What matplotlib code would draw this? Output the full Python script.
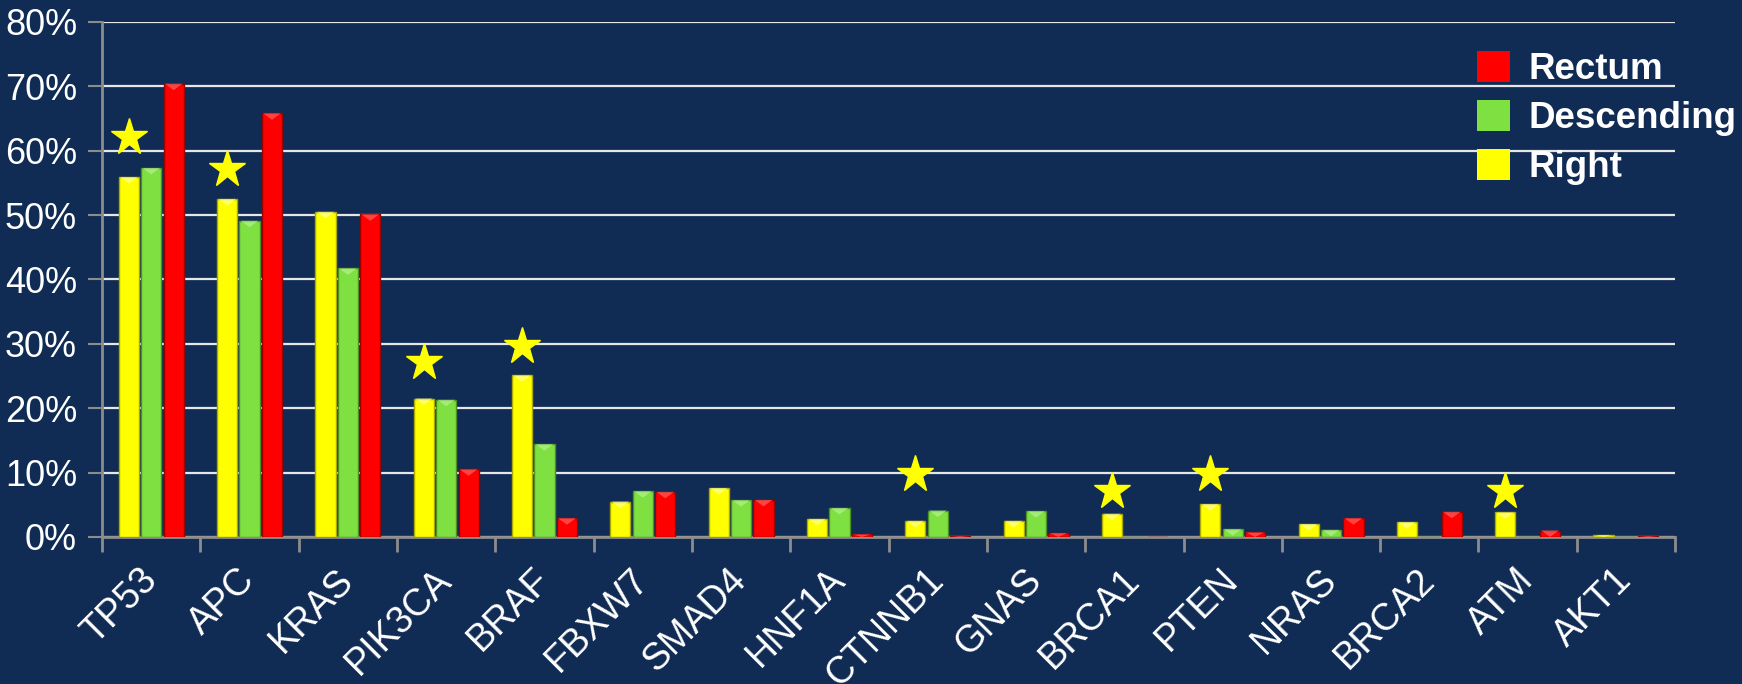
import matplotlib
matplotlib.use("Agg")
import matplotlib.pyplot as plt
from matplotlib.patches import Polygon, Patch
import numpy as np

plt.rcParams['font.family'] = ['Liberation Sans', 'DejaVu Sans']

genes = ["TP53", "APC", "KRAS", "PIK3CA", "BRAF", "FBXW7", "SMAD4", "HNF1A",
         "CTNNB1", "GNAS", "BRCA1", "PTEN", "NRAS", "BRCA2", "ATM", "AKT1"]
right = [55.9, 52.5, 50.5, 21.5, 25.1, 5.5, 7.6, 2.8, 2.5, 2.5, 3.6, 5.1, 2.0, 2.3, 3.8, 0.3]
descending = [57.3, 49.1, 41.7, 21.3, 14.4, 7.1, 5.7, 4.5, 4.1, 4.0, 0.0, 1.2, 1.1, 0.0, 0.0, 0.0]
rectum = [70.4, 65.8, 50.1, 10.5, 2.9, 7.0, 5.75, 0.4, 0.15, 0.6, 0.0, 0.7, 2.9, 3.9, 1.0, 0.15]

star_genes = ["TP53", "APC", "PIK3CA", "BRAF", "CTNNB1", "BRCA1", "PTEN", "ATM"]
star_y = [62.1, 57.1, 27.2, 29.7, 9.7, 7.2, 9.7, 7.2]

yticks = [0, 10, 20, 30, 40, 50, 60, 70, 80]

BG = "#102C54"
series = [
    ("Right", right, "#FFFF00", "#A8A800", "#FFFF9A"),
    ("Descending", descending, "#7EE041", "#4C8F25", "#B4F28E"),
    ("Rectum", rectum, "#FF0000", "#9A0000", "#FF6060"),
]

fig = plt.figure(figsize=(17.42, 6.84), dpi=100, facecolor=BG)
ax = fig.add_axes([0.0586, 0.215, 0.9030, 0.753])
ax.set_facecolor(BG)

x = np.arange(len(genes))
step = 0.228
width = 0.205
bevel = 1.0
for i, (name, vals, col, edge, light) in enumerate(series):
    bars = ax.bar(x + (i - 1) * step, vals, width=width, color=col,
                  edgecolor=edge, linewidth=1.0, zorder=3)
    for b in bars:
        h = b.get_height()
        if h <= 0:
            continue
        bx, bw = b.get_x(), b.get_width()
        th = min(bevel, h)
        tri = Polygon([[bx + bw * 0.06, h], [bx + bw * 0.94, h], [bx + bw / 2, h - th]],
                      closed=True, facecolor=light, edgecolor='none', zorder=4, alpha=0.7)
        ax.add_patch(tri)

# stars over the "Right" bars
sx = [x[genes.index(g)] - step for g in star_genes]
ax.plot(sx, star_y, linestyle='none', marker='*', markersize=28,
        color="#FFFF00", markeredgecolor="#FFFF00", zorder=5)

ax.set_xlim(-0.5, len(genes) - 0.5)
ax.set_ylim(0, 80)
ax.set_yticks(yticks)
ax.set_yticklabels([f"{v}%" for v in yticks])
ax.yaxis.grid(True, color="#E6E6E6", linewidth=1.6)
ax.set_axisbelow(True)

ax.set_xticks(x)
ax.set_xticklabels(genes, rotation=45, ha='right', va='center', rotation_mode='anchor')
ax.set_xticks(np.arange(len(genes) + 1) - 0.5, minor=True)
ax.tick_params(axis='x', which='major', length=0, pad=27, labelsize=27, labelcolor='white')
ax.tick_params(axis='x', which='minor', length=11, width=2, color="#8C8C8C", direction='out')
ax.tick_params(axis='y', length=10, width=1.5, color="#8C8C8C", pad=8, labelsize=26,
               labelcolor='white')

for s in ['top', 'right']:
    ax.spines[s].set_visible(False)
for s in ['left', 'bottom']:
    ax.spines[s].set_color("#8C8C8C")
    ax.spines[s].set_linewidth(2)

handles = [Patch(facecolor=c, edgecolor='none') for (_, _, c, _, _) in series[::-1]]
labels = [n for (n, _, _, _, _) in series[::-1]]
leg = fig.legend(handles, labels, loc='upper left', bbox_to_anchor=(0.848, 0.925),
                 frameon=False, fontsize=26.5, handlelength=0.9, handleheight=0.9,
                 handletextpad=0.5, labelspacing=0.35, borderaxespad=0, borderpad=0)
for t in leg.get_texts():
    t.set_color('white')
    t.set_fontweight('bold')

fig.savefig("out.png", dpi=100, facecolor=BG)
